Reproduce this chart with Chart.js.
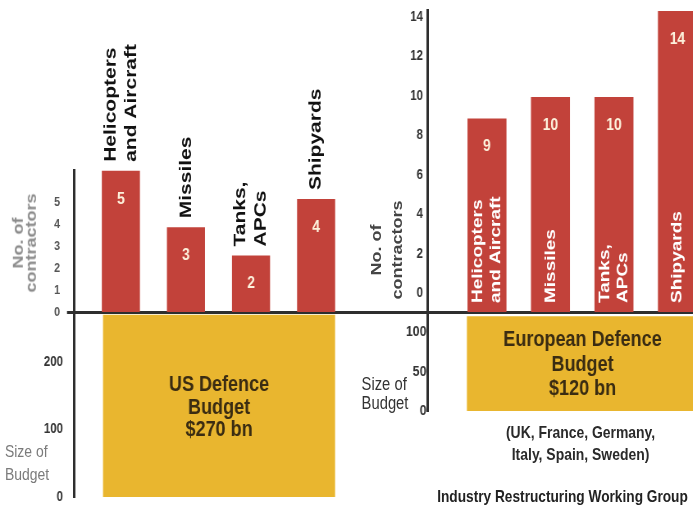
<!DOCTYPE html>
<html lang="en">
<head>
<meta charset="UTF-8">
<title>Defence contractors and budgets</title>
<script src="https://cdn.jsdelivr.net/npm/chart.js@4"></script>
<style>
  html, body { margin: 0; padding: 0; background: #fff; overflow: hidden; }
  body { font-family: "Liberation Sans", Arial, sans-serif; }
  /* the source picture is squeezed sideways, so the whole page is drawn wide and narrowed */
  #page { position: absolute; left: 0; top: 0; width: 845px; height: 507px; transform: scaleX(0.82); transform-origin: 0 0; }
  #page canvas { position: absolute; }
  .txt { position: absolute; white-space: nowrap; }
  .vtitle { position: absolute; white-space: nowrap; text-align: center; font-weight: bold; font-size: 18px;
            transform: translate(-50%, -50%) rotate(-90deg); }
</style>
</head>
<body>
<div id="page">
  <canvas id="usTop"></canvas>
  <canvas id="usBudget"></canvas>
  <canvas id="euTop"></canvas>
  <canvas id="euBudget"></canvas>

  <div class="vtitle" style="left:30px; top:243px; line-height:16px; color:#8c8c8c;">No. of<br>contractors</div>
  <div class="vtitle" style="left:472px; top:250px; line-height:25px; color:#444;">No. of<br>contractors</div>

  <div class="txt" style="left:6px; top:440px; font-size:17px; line-height:23px; color:#7b7b7b;">Size of<br>Budget</div>
  <div class="txt" style="left:441px; top:375px; font-size:18px; line-height:19px; color:#333;">Size of<br>Budget</div>

  <div class="txt" style="left:708px; top:422px; transform:translateX(-50%); text-align:center; font-size:17px; font-weight:bold; line-height:22px; color:#2a2a2a;">(UK, France, Germany,<br>Italy, Spain, Sweden)</div>
  <div class="txt" style="left:686px; top:488px; transform:translateX(-50%); font-size:16.7px; font-weight:bold; line-height:18px; color:#222;">Industry Restructuring Working Group</div>
</div>

<script>
    const usCategories = [['Helicopters', 'and Aircraft'], ['Missiles'], ['Tanks,', 'APCs'], ['Shipyards']];
    const usContractors = [5, 3, 2, 4];
    const usContractorTicks = [0, 1, 2, 3, 4, 5];
    const usBudget = [270];
    const usBudgetTicks = [0, 100, 200];
    const usBudgetText = ['US Defence', 'Budget', '$270 bn'];

    const euCategories = [['Helicopters', 'and Aircraft'], ['Missiles'], ['Tanks,', 'APCs'], ['Shipyards']];
    const euContractors = [9, 10, 10, 14];
    const euContractorTicks = [0, 2, 4, 6, 8, 10, 12, 14];
    const euBudget = [120];
    const euBudgetTicks = [0, 50, 100];
    const euBudgetText = ['European Defence', 'Budget', '$120 bn'];

    const SX = 0.82;
    const X = v => v / SX;   // picture px -> page px (horizontal only)
    const PAD = 25;          // room for tick labels above / below each plot area
    const RED = '#c2423a';
    const GOLD = '#e9b62f';
    const INK = '#2e2e2e';
    const FONT = '"Liberation Sans", Arial, sans-serif';

    Chart.defaults.font.family = FONT;

    // canvas box given by its plot area (in picture px), plus padding above and below
    function place(id, [left, top, right, bottom], padTop) {
        const c = document.getElementById(id);
        c.width = Math.round(X(right - left));
        c.height = bottom - top + padTop + PAD;
        c.style.left = X(left) + 'px';
        c.style.top = (top - padTop) + 'px';
        return c;
    }

    // value in the bar and rotated category name
    const barText = {
        id: 'barText',
        afterDatasetsDraw(chart, args, opts) {
            const ctx = chart.ctx;
            const ds = chart.data.datasets[0];
            ctx.save();
            chart.getDatasetMeta(0).data.forEach((bar, i) => {
                ctx.fillStyle = '#fdf1dc';
                ctx.font = 'bold 17px ' + FONT;
                ctx.textAlign = 'center';
                ctx.textBaseline = 'middle';
                ctx.fillText(String(ds.data[i].y), bar.x, bar.y + 28);

                const lines = chart.data.labels[i];
                ctx.save();
                ctx.translate(bar.x, opts.inside ? bar.base - 9 : bar.y - 9);
                ctx.rotate(-Math.PI / 2);
                ctx.font = 'bold ' + opts.size + 'px ' + FONT;
                ctx.fillStyle = opts.inside ? '#ffffff' : '#111111';
                ctx.textAlign = 'left';
                ctx.textBaseline = 'middle';
                lines.forEach((line, k) => {
                    ctx.fillText(line, 0, (k - (lines.length - 1) / 2) * opts.lineHeight);
                });
                ctx.restore();
            });
            ctx.restore();
        }
    };

    // budget caption in the middle of the gold block
    const boxText = {
        id: 'boxText',
        afterDatasetsDraw(chart, args, opts) {
            const ctx = chart.ctx;
            const bar = chart.getDatasetMeta(0).data[0];
            const lines = chart.data.labels[0];
            const cy = (bar.y + bar.base) / 2 + opts.shift;
            ctx.save();
            ctx.fillStyle = '#3a2c12';
            ctx.font = 'bold 22px ' + FONT;
            ctx.textAlign = 'center';
            ctx.textBaseline = 'middle';
            lines.forEach((line, k) => {
                ctx.fillText(line, bar.x, cy + (k - (lines.length - 1) / 2) * opts.lineHeight);
            });
            ctx.restore();
        }
    };

    const base = {
        responsive: false,
        animation: false,
        events: []
    };

    function contractorChart(id, box, cats, values, ticks, o) {
        return new Chart(place(id, box, o.padTop), {
            type: 'bar',
            data: {
                labels: cats,
                datasets: [{
                    data: values.map((v, i) => ({ x: i, y: v })),
                    backgroundColor: RED,
                    yAxisID: 'y',
                    barPercentage: o.barPct,
                    categoryPercentage: 1
                }]
            },
            options: {
                ...base,
                layout: { padding: { top: o.padTop, bottom: PAD, left: 0, right: 0 } },
                plugins: {
                    legend: { display: false },
                    tooltip: { enabled: false },
                    barText: { inside: o.inside, size: o.labelSize, lineHeight: o.labelLh }
                },
                scales: {
                    x: {
                        type: 'linear', offset: false, min: o.xMin, max: o.xMax,
                        grid: { display: false, drawTicks: false },
                        ticks: { display: false },
                        border: { color: INK, width: 3 },
                        afterBuildTicks: s => { s.ticks = values.map((v, i) => ({ value: i })); },
                        afterFit: s => { s.height = 0; }
                    },
                    y: { type: 'linear', display: false, min: 0, max: o.barMax },
                    yt: {
                        type: 'linear', position: 'left', min: o.tickMin, max: o.tickMax,
                        afterBuildTicks: s => { s.ticks = ticks.map(v => ({ value: v })); },
                        afterFit: s => { s.width = X(o.axisW); },
                        grid: o.zeroTick ? {
                            drawOnChartArea: false, drawTicks: true, tickLength: X(7), lineWidth: 3,
                            color: c => (c.tick && c.tick.value === 0) ? INK : 'rgba(0,0,0,0)'
                        } : { display: false, drawTicks: false },
                        border: { color: INK, width: 3 },
                        ticks: { autoSkip: false, padding: X(o.tickPad), color: o.tickColor, font: { size: o.tickSize, weight: 'bold' } }
                    }
                }
            },
            plugins: [barText]
        });
    }

    function budgetChart(id, box, text, values, ticks, o) {
        return new Chart(place(id, box, PAD), {
            type: 'bar',
            data: {
                labels: [text],
                datasets: [{ data: values, backgroundColor: GOLD, barPercentage: o.barPct, categoryPercentage: 1 }]
            },
            options: {
                ...base,
                layout: { padding: { top: PAD, bottom: PAD, left: 0, right: 0 } },
                plugins: {
                    legend: { display: false },
                    tooltip: { enabled: false },
                    boxText: { shift: o.shift, lineHeight: o.lineHeight }
                },
                scales: {
                    x: { display: false },
                    y: {
                        min: 0, max: o.max,
                        afterBuildTicks: s => { s.ticks = ticks.map(v => ({ value: v })); },
                        afterFit: s => { s.width = X(o.axisW); },
                        grid: { display: false, drawTicks: false },
                        border: { color: INK, width: 3 },
                        ticks: { autoSkip: false, padding: X(o.tickPad), color: '#333', font: { size: o.tickSize, weight: 'bold' } }
                    }
                }
            },
            plugins: [boxText]
        });
    }

    // boxes are the plot areas: [left, top, right, bottom] in picture px
    contractorChart('usTop', [0, 170, 428, 312], usCategories, usContractors, usContractorTicks, {
        padTop: 170, axisW: 74, xMin: -0.72, xMax: 4.72, barPct: 0.585, barMax: 5.03,
        tickMin: 0, tickMax: 6.45, tickPad: 7, tickColor: '#555', tickSize: 13, zeroTick: true,
        inside: false, labelSize: 21, labelLh: 25
    });

    budgetChart('usBudget', [0, 312, 364, 497], usBudgetText, usBudget, usBudgetTicks, {
        axisW: 74, max: 274, barPct: 0.8, tickPad: 11, tickSize: 14, shift: 2, lineHeight: 22.5
    });

    contractorChart('euTop', [365, 10, 720, 312], euCategories, euContractors, euContractorTicks, {
        padTop: PAD, axisW: 63, xMin: -0.93, xMax: 3.67, barPct: 0.614, barMax: 14.05,
        tickMin: -0.96, tickMax: 14.36, tickPad: 5, tickColor: '#333', tickSize: 14, zeroTick: false,
        inside: true, labelSize: 19, labelLh: 22.5
    });

    budgetChart('euBudget', [365, 312, 737, 411], euBudgetText, euBudget, euBudgetTicks, {
        axisW: 63, max: 125.5, barPct: 0.748, tickPad: 1.5, tickSize: 15, shift: 1, lineHeight: 24.5
    });
</script>
</body>
</html>
